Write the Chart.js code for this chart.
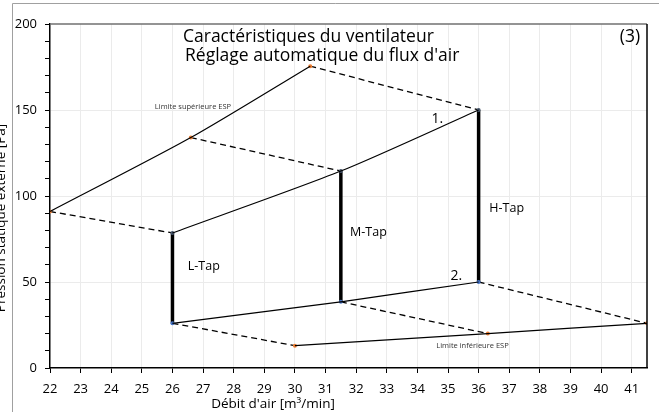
<!DOCTYPE html>
<html>
<head>
<meta charset="utf-8">
<script src="https://cdn.jsdelivr.net/npm/chart.js@4.4.0/dist/chart.umd.min.js"></script>
<style>
  body { margin: 0; background: #fff; }
  #wrap { width: 659px; height: 412px; }
</style>
</head>
<body>
<div id="wrap"><canvas id="fanChart" width="659" height="412"></canvas></div>
<script>
"use strict";

// values
var tapNames = ['L-Tap', 'M-Tap', 'H-Tap'];
var tapFlow = [26, 31.5, 36];
var tapHigh = [78.5, 114.5, 150];
var tapLow = [26, 38.5, 50];
var upperEspFlow = [22, 26.6, 30.5];
var upperEspPressure = [91, 134, 175.5];
var lowerEspFlow = [30, 36.3, 41.5];
var lowerEspPressure = [13, 20, 26];
var xTicks = [22, 23, 24, 25, 26, 27, 28, 29, 30, 31, 32, 33, 34, 35, 36, 37, 38, 39, 40, 41];
var yTickLabels = [0, 50, 100, 150, 200];

// label positions (data units)
var tapLabelPos = [[26.5, 59], [31.8, 79], [36.35, 93]];

function pts(xs, ys) {
    return xs.map(function (x, i) { return { x: x, y: ys[i] }; });
}

var solid = { borderColor: '#000', borderWidth: 1.2, showLine: true, tension: 0.25, pointRadius: 0, fill: false };
var datasets = [];

datasets.push(Object.assign({}, solid, { data: pts(upperEspFlow, upperEspPressure) }));
datasets.push(Object.assign({}, solid, { data: pts(tapFlow, tapHigh) }));
datasets.push(Object.assign({}, solid, { data: pts(tapFlow, tapLow), tension: 0.1 }));
datasets.push(Object.assign({}, solid, { data: pts(lowerEspFlow, lowerEspPressure), tension: 0.1 }));

tapFlow.forEach(function (f, i) {
    datasets.push({
        data: [{ x: upperEspFlow[i], y: upperEspPressure[i] }, { x: f, y: tapHigh[i] }],
        showLine: true, borderColor: '#000', borderWidth: 1.3, borderDash: [6, 4],
        pointRadius: [2, 2], pointBackgroundColor: ['#ed7d31', '#44546a'], pointBorderWidth: 0
    });
    datasets.push({
        data: [{ x: f, y: tapLow[i] }, { x: lowerEspFlow[i], y: lowerEspPressure[i] }],
        showLine: true, borderColor: '#000', borderWidth: 1.3, borderDash: [6, 4],
        pointRadius: [2, 2], pointBackgroundColor: ['#4472c4', '#ed7d31'], pointBorderWidth: 0
    });
    datasets.push({
        data: [{ x: f, y: tapLow[i] }, { x: f, y: tapHigh[i] }],
        showLine: true, borderColor: '#000', borderWidth: 3.5, pointRadius: 0
    });
});

var textPlugin = {
    id: 'texts',
    beforeDraw: function (chart) {
        var c = chart.ctx;
        c.save();
        c.fillStyle = '#fff';
        c.fillRect(0, 0, chart.width, chart.height);
        c.strokeStyle = '#a0a0a0';
        c.lineWidth = 1;
        c.beginPath();
        c.moveTo(12.5, 412);
        c.lineTo(12.5, 3.5);
        c.lineTo(659, 3.5);
        c.stroke();
        c.restore();
    },
    afterDatasetsDraw: function (chart) {
        var c = chart.ctx;
        var a = chart.chartArea;
        var xs = chart.scales.x, ys = chart.scales.y;
        c.save();
        // top and right border
        c.strokeStyle = '#707070';
        c.lineWidth = 1.5;
        c.beginPath();
        c.moveTo(a.left, a.top);
        c.lineTo(a.right, a.top);
        c.stroke();
        c.strokeStyle = '#000';
        c.beginPath();
        c.moveTo(a.right, a.top);
        c.lineTo(a.right, a.bottom);
        c.stroke();

        c.fillStyle = '#000';
        c.textBaseline = 'middle';
        c.textAlign = 'left';
        c.font = '17.5px "Open Sans"';
        c.fillText('Caractéristiques du ventilateur', 183, 37);
        c.fillText('Réglage automatique du flux d\'air', 185, 56);
        c.textAlign = 'center';
        c.fillText('(3)', 630, 37);

        c.font = '12.5px "Open Sans"';
        c.textAlign = 'left';
        tapNames.forEach(function (n, i) {
            c.fillText(n, xs.getPixelForValue(tapLabelPos[i][0]), ys.getPixelForValue(tapLabelPos[i][1]));
        });
        c.textAlign = 'center';
        c.font = '14px "Open Sans"';
        c.fillText('1.', xs.getPixelForValue(34.65), ys.getPixelForValue(144.7));
        c.fillText('2.', xs.getPixelForValue(35.27), ys.getPixelForValue(53.5));

        c.font = '7.5px "Open Sans"';
        c.fillStyle = '#333';
        c.fillText('Limite supérieure ESP', xs.getPixelForValue(26.67), ys.getPixelForValue(152));
        c.fillText('Limite inférieure ESP', xs.getPixelForValue(35.8), ys.getPixelForValue(12.8));

        // axis titles
        c.fillStyle = '#000';
        c.font = '13.5px "Open Sans"';
        c.fillText('Débit d\'air [m³/min]', 273, 404);
        c.translate(1, 218);
        c.rotate(-Math.PI / 2);
        c.fillText('Pression statique externe [Pa]', 0, 0);
        c.restore();
    }
};

var ctx = document.getElementById('fanChart').getContext('2d');
var myChart = new Chart(ctx, {
    type: 'scatter',
    data: { datasets: datasets },
    options: {
        responsive: false,
        animation: false,
        layout: { padding: { top: 24, right: 12, left: 0, bottom: 0 } },
        plugins: { legend: { display: false }, tooltip: { enabled: false } },
        scales: {
            x: {
                type: 'linear', min: 22, max: 41.5,
                afterFit: function (s) { s.height = 44; },
                afterBuildTicks: function (s) {
                    s.ticks = xTicks.map(function (v) { return { value: v }; });
                },
                ticks: { stepSize: 1, autoSkip: false, color: '#000', padding: 8, maxRotation: 0, font: { family: 'Open Sans', size: 13 } },
                grid: {
                    color: function (c) { return c.tick && c.tick.value > 22 ? '#ebebeb' : 'transparent'; },
                    tickColor: '#000', tickLength: 5
                },
                border: { color: '#000', width: 1.5 }
            },
            y: {
                type: 'linear', min: 0, max: 200,
                afterFit: function (s) { s.width = 50; },
                ticks: {
                    stepSize: 10, autoSkip: false, color: '#000', padding: 8, font: { family: 'Open Sans', size: 13 },
                    callback: function (v) { return yTickLabels.indexOf(v) >= 0 ? v : ''; }
                },
                grid: {
                    color: function (c) {
                        var v = c.tick ? c.tick.value : 0;
                        return (v % 50 === 0 && v > 0 && v < 200) ? '#ebebeb' : 'transparent';
                    },
                    tickColor: '#000', tickLength: 5
                },
                border: { color: '#000', width: 1.5 }
            }
        }
    },
    plugins: [textPlugin]
});
</script>
</body>
</html>
